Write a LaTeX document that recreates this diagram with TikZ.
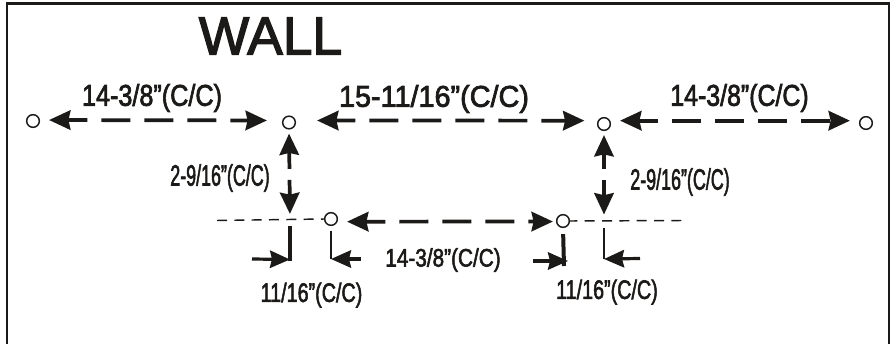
\documentclass[tikz,border=0pt]{standalone}
\usepackage{fontspec}
\usepackage{graphicx}
\setmainfont[FakeBold=2.5]{Liberation Sans}
\usetikzlibrary{arrows.meta}
\definecolor{ink}{HTML}{1C1A18}
\newcommand\lbl[3]{\fontsize{#1pt}{#1pt}\selectfont\scalebox{#2}[1]{#3}}
\tikzset{
  x=0.75pt,y=-0.75pt,
  hole/.style={circle,draw=ink,line width=1.1pt,fill=white,minimum size=9.5pt,inner sep=0pt},
  lab/.style={inner sep=0pt,text=ink},
  dimline/.style={draw=ink,line width=2.8pt,{Stealth[length=16pt,width=14.5pt,inset=1.5pt]}-{Stealth[length=16pt,width=14.5pt,inset=1.5pt]}},
  hdash/.style={dash pattern=on 21.75pt off 10.5pt,dash phase=6.75pt},
  thindash/.style={draw=ink,line width=1.1pt,dash pattern=on 7.5pt off 5.5pt},
  ext/.style={draw=ink,line width=2.4pt},
  pointer/.style={draw=ink,line width=2.4pt,-{Stealth[length=15pt,width=13pt,inset=1.5pt]}},
}
\begin{document}
\begin{tikzpicture}
\useasboundingbox (0,0) rectangle (896,343);
\fill[white] (0,0) rectangle (896,343);
% frame
\draw[draw=ink,line width=1.7pt] (7,350) -- (7,3.5) -- (889,3.5) -- (889,350);
% title
\node[lab] (title) at (270.5,36) {\lbl{40}{1}{WALL}};
% holes
\node[hole] (A) at (33,121) {};
\node[hole] (B) at (289,122.5) {};
\node[hole] (C) at (604,124) {};
\node[hole] (D) at (866,123) {};
\node[hole] (E) at (331,219) {};
\node[hole] (F) at (563,221) {};
% junctions and free ends
\coordinate (J1) at (290,220);
\coordinate (J2) at (604,220.5);
\coordinate (L1) at (217,220.5);
\coordinate (R1) at (682,220.5);
\coordinate (e1a) at (290,226);
\coordinate (e1b) at (290,259.5);
\coordinate (p1) at (252,259);
\coordinate (e2b) at (331,259);
\coordinate (p2) at (361,259);
\coordinate (e3b) at (564,266);
\coordinate (q3) at (568,261);
\coordinate (p3) at (533,261);
\coordinate (e4a) at (604,228);
\coordinate (e4b) at (604,259);
\coordinate (p4) at (640,258.5);
% main horizontals
\draw[dimline,hdash,shorten <=6.75pt,shorten >=11.25pt] ([yshift=0.75pt]A.east) -- ([yshift=1.5pt]B.west);
\draw[dimline,hdash,shorten <=15.75pt,shorten >=9.4pt] ([yshift=1.5pt]B.east) -- ([yshift=2.5pt]C.west);
\draw[dimline,hdash,shorten <=6.75pt,shorten >=6.75pt] ([yshift=2.5pt]C.east) -- ([yshift=1.75pt]D.west);
\draw[dimline,hdash,shorten <=6.75pt,shorten >=2.25pt] ([yshift=-2pt]E.east) -- ([yshift=-0.4pt]F.west);
% verticals
\draw[dimline,dash pattern=on 12.75pt off 8.25pt on 30pt off 0pt,shorten <=3pt,shorten >=4.5pt] (B.south) -- (J1);
\draw[dimline,dash pattern=on 12pt off 8.25pt on 30pt off 0pt,shorten <=3pt,shorten >=4.5pt] (C.south) -- (J2);
% thin reference lines
\draw[thindash] (L1) -- (E.west);
\draw[thindash,dash phase=2pt] (F.east) -- (R1);
% extension lines and pointers
\draw[ext,shorten >=-1pt] (e1a) -- (e1b);
\draw[pointer] (p1) -- (e1b);
\draw[ext,line width=2pt,shorten <=3.5pt] (E.south) -- (e2b);
\draw[pointer] (p2) -- (e2b);
\draw[ext,line width=3pt,shorten <=4.5pt] (F.south) -- (e3b);
\draw[pointer] (p3) -- (q3);
\draw[ext,line width=2pt] (e4a) -- (e4b);
\draw[pointer] (p4) -- (e4b);
% labels
\node[lab] (t1) at (152,98) {\lbl{22.5}{0.84}{14-3/8"(C/C)}};
\node[lab] (t2) at (434,99) {\lbl{22.5}{0.96}{15-11/16"(C/C)}};
\node[lab] (t3) at (739.5,98) {\lbl{22.5}{0.83}{14-3/8"(C/C)}};
\node[lab] (t4) at (220,178) {\lbl{22}{0.61}{2-9/16"(C/C)}};
\node[lab] (t5) at (680,182) {\lbl{22}{0.61}{2-9/16"(C/C)}};
\node[lab] (t6) at (311.5,295) {\lbl{20}{0.74}{11/16"(C/C)}};
\node[lab] (t7) at (607,292) {\lbl{20}{0.74}{11/16"(C/C)}};
\node[lab] (t8) at (443,260) {\lbl{19}{0.82}{14-3/8"(C/C)}};
\end{tikzpicture}
\end{document}
